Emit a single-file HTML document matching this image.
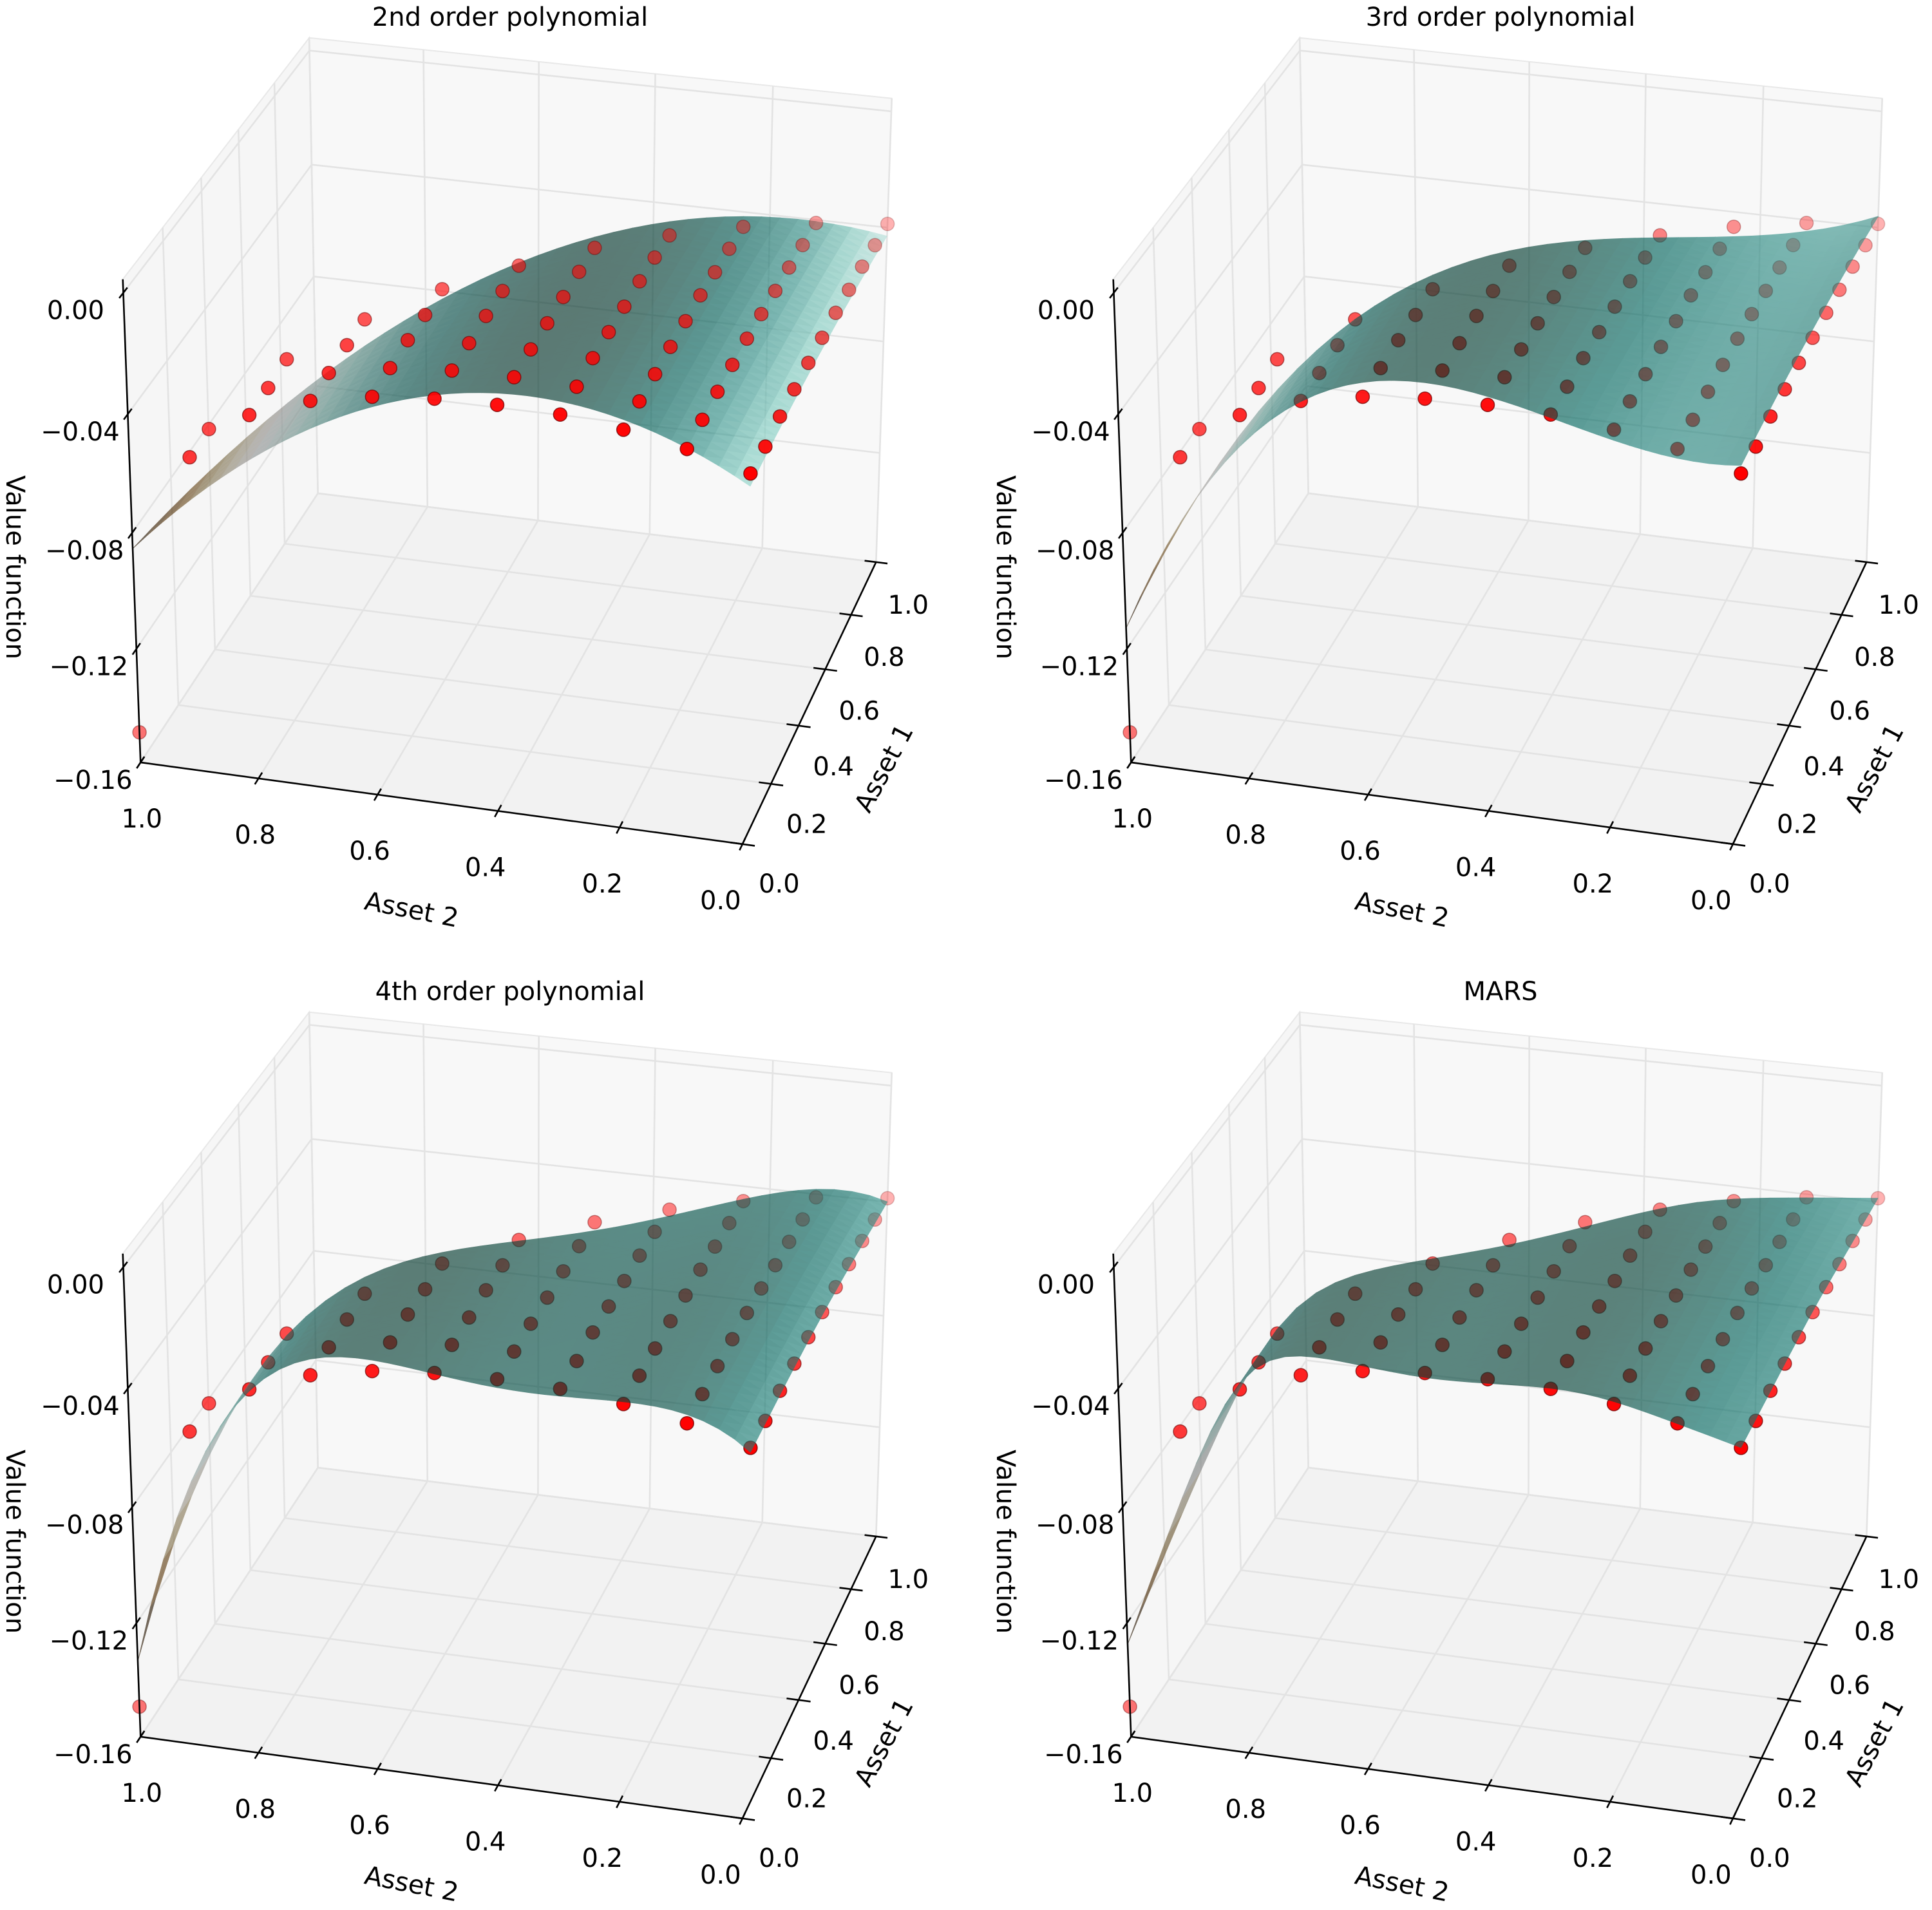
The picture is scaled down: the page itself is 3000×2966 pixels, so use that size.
<!DOCTYPE html>
<html><head><meta charset="utf-8">
<style>
html,body{margin:0;padding:0;background:#fff}
svg{display:block}
text{font-family:"DejaVu Sans","Liberation Sans",sans-serif;fill:#000}
</style></head>
<body>
<svg id="fig" width="3000" height="2966" viewBox="0 0 3000 2966" xmlns="http://www.w3.org/2000/svg">
<rect x="0" y="0" width="3000" height="2966" fill="#ffffff"/>
</svg>
<script>
// ---------------- data ----------------
const asset1Ticks = [0.0, 0.2, 0.4, 0.6, 0.8, 1.0];
const asset2Ticks = [0.0, 0.2, 0.4, 0.6, 0.8, 1.0];
const zTicks = [-0.16, -0.12, -0.08, -0.04, 0.00];
const zTickLabels = ["\u22120.16", "\u22120.12", "\u22120.08", "\u22120.04", "0.00"];
const gridLevels = [0.0, 0.1, 0.2, 0.3, 0.4, 0.5, 0.6, 0.7, 0.8, 0.9, 1.0];
// valuesByAsset2[j][i] = value at Asset2 = gridLevels[j], Asset1 = gridLevels[i]
const valuesByAsset2 = [
  [-0.0348,-0.0352,-0.0344,-0.0344,-0.0345,-0.0349,-0.0352,-0.0360,-0.0366,-0.0377,-0.0387],
  [-0.0293,-0.0289,-0.0287,-0.0287,-0.0288,-0.0293,-0.0301,-0.0307,-0.0315,-0.0323],
  [-0.0255,-0.0253,-0.0253,-0.0251,-0.0253,-0.0253,-0.0261,-0.0266,-0.0275],
  [-0.0230,-0.0229,-0.0224,-0.0226,-0.0228,-0.0229,-0.0234,-0.0243],
  [-0.0223,-0.0222,-0.0219,-0.0220,-0.0219,-0.0220,-0.0224],
  [-0.0227,-0.0224,-0.0222,-0.0219,-0.0222,-0.0222],
  [-0.0245,-0.0240,-0.0236,-0.0239,-0.0239],
  [-0.0283,-0.0280,-0.0276,-0.0277],
  [-0.0354,-0.0354,-0.0347],
  [-0.0519,-0.0516],
  [-0.1493]
];
const panelTitles = ["2nd order polynomial", "3rd order polynomial", "4th order polynomial", "MARS"];
const panelModels = ["poly2", "poly3", "poly4", "mars"];
const marsKnotsAsset2 = [0.25, 0.5, 0.8];
const marsKnotsAsset1 = [0.5];
const zLimits = [-0.16, 0.0044];

// ---------------- layout ----------------
const panelOffsetX = [0, 1538, 0, 1538];
const panelOffsetY = [0, 0, 1513, 1513];
const dotsOnTop = [true, false, false, false];

const SVGNS = "http://www.w3.org/2000/svg";
const fig = document.getElementById("fig");
function mk(tag, attrs, parent) {
  const e = document.createElementNS(SVGNS, tag);
  for (const k in attrs) e.setAttribute(k, attrs[k]);
  (parent || fig).appendChild(e);
  return e;
}

// ---------------- linear algebra ----------------
function solve(A, b) {
  const n = b.length;
  const M = A.map((r, i) => r.slice().concat([b[i]]));
  for (let c = 0; c < n; c++) {
    let p = c;
    for (let r = c + 1; r < n; r++) if (Math.abs(M[r][c]) > Math.abs(M[p][c])) p = r;
    [M[c], M[p]] = [M[p], M[c]];
    const d = M[c][c] || 1e-12;
    for (let r = 0; r < n; r++) {
      if (r === c) continue;
      const f = M[r][c] / d;
      if (f === 0) continue;
      for (let k = c; k <= n; k++) M[r][k] -= f * M[c][k];
    }
  }
  return M.map((r, i) => r[n] / (r[i] || 1e-12));
}
function lstsq(rows, y, ridge) {
  const m = rows[0].length;
  const A = [], b = [];
  for (let i = 0; i < m; i++) { A.push(new Array(m).fill(0)); b.push(0); }
  rows.forEach((r, k) => {
    for (let i = 0; i < m; i++) {
      b[i] += r[i] * y[k];
      for (let j = 0; j < m; j++) A[i][j] += r[i] * r[j];
    }
  });
  for (let i = 0; i < m; i++) A[i][i] += (ridge || 0);
  return solve(A, b);
}

// ---------------- projection (fit to box geometry) ----------------
const zmin = zLimits[0], zmax = zLimits[1];
const corr = [
  [0,0,zmin,1154,1311],[0,1,zmin,221,1186],[1,0,zmin,1358,874],[1,1,zmin,494,770],
  [0,1,zmax,190,438],[1,1,zmax,482,62],[1,0,zmax,1386,155],[0,1,0,190,453],[0,1,-0.12,210,1003],
  [1,1,-0.04,483,253],[1,1,-0.08,487,425],[1,0,-0.04,1378,350]
];
const Pm = (function () {
  const rows = [], rhs = [];
  corr.forEach(c => {
    const X = c[0], Y = c[1], Z = (c[2] - zmin) / (zmax - zmin), u = c[3], v = c[4];
    rows.push([X,Y,Z,1,0,0,0,0,-u*X,-u*Y,-u*Z]); rhs.push(u);
    rows.push([0,0,0,0,X,Y,Z,1,-v*X,-v*Y,-v*Z]); rhs.push(v);
  });
  return lstsq(rows, rhs, 0);
})();
function proj(a1, a2, z) {
  const Z = (z - zmin) / (zmax - zmin);
  const w = Pm[8]*a1 + Pm[9]*a2 + Pm[10]*Z + 1;
  return [(Pm[0]*a1 + Pm[1]*a2 + Pm[2]*Z + Pm[3]) / w, (Pm[4]*a1 + Pm[5]*a2 + Pm[6]*Z + Pm[7]) / w, w];
}
const farSign = proj(1, 1, zmin)[2] > proj(0, 0, zmin)[2] ? 1 : -1;

// ---------------- model fitting ----------------
const dataPts = [];
valuesByAsset2.forEach((row, j) => row.forEach((v, i) => dataPts.push([gridLevels[i], gridLevels[j], v])));
function polyFeat(d) {
  return (a1, a2) => { const f = []; for (let i = 0; i <= d; i++) for (let j = 0; j <= d - i; j++) f.push(Math.pow(a1, i) * Math.pow(a2, j)); return f; };
}
function sp(x) { const s = 0.04; return s * Math.log(1 + Math.exp(x / s)); }
function marsFeat(a1, a2) {
  const f = [1, a1, a2];
  marsKnotsAsset2.forEach(k => f.push(sp(a2 - k)));
  marsKnotsAsset1.forEach(k => f.push(sp(a1 - k)));
  f.push(a1 * a2);
  return f;
}
function fitModel(name) {
  const feat = name === "mars" ? marsFeat : polyFeat(parseInt(name.slice(4)));
  const coef = lstsq(dataPts.map(p => feat(p[0], p[1])), dataPts.map(p => p[2]), 1e-10);
  return (a1, a2) => feat(a1, a2).reduce((s, v, i) => s + v * coef[i], 0);
}

// ---------------- colormap (BrBG) ----------------
const brbg = [[84,48,5],[140,81,10],[191,129,45],[223,194,125],[246,232,195],[245,245,245],[199,234,229],[128,205,193],[53,151,143],[1,102,94],[0,60,48]];
function cmap(t) {
  t = Math.max(0, Math.min(1, t)) * 10;
  const i = Math.min(9, Math.floor(t)), f = t - i;
  return brbg[i].map((c, k) => c + (brbg[i + 1][k] - c) * f);
}

// ---------------- draw ----------------
function line(g, p, q, stroke, w, name) {
  const l = mk("line", {x1: p[0], y1: p[1], x2: q[0], y2: q[1], stroke: stroke, "stroke-width": w, "stroke-linecap": "butt"}, g);
  
  
  return l;
}
function txt(g, x, y, s, size, rot, name) {
  const t = mk("text", {x: x, y: y, "font-size": size, "text-anchor": "middle", "dominant-baseline": "central"}, g);
  if (rot) t.setAttribute("transform", "rotate(" + rot + " " + x + " " + y + ")");
  t.textContent = s;
  
  
  return t;
}

panelModels.forEach((model, pi) => {
  const ox = panelOffsetX[pi], oy = panelOffsetY[pi];
  const P = (a1, a2, z) => { const r = proj(a1, a2, z); return [r[0] + ox, r[1] + oy, r[2] * farSign]; };
  const g = mk("g", {});
  
  

  // panes
  const panes = [
    [[0,0,zmin],[1,0,zmin],[1,1,zmin],[0,1,zmin], "#f2f2f2", "floor-pane"],
    [[0,1,zmin],[1,1,zmin],[1,1,zmax],[0,1,zmax], "#f6f6f6", "left-pane"],
    [[1,0,zmin],[1,1,zmin],[1,1,zmax],[1,0,zmax], "#f8f8f8", "back-pane"]
  ];
  panes.forEach(pn => {
    const pts = pn.slice(0, 4).map(v => P(v[0], v[1], v[2]).slice(0, 2).join(",")).join(" ");
    const e = mk("polygon", {points: pts, fill: pn[4], stroke: "#e8e8e8", "stroke-width": 2}, g);
    
    
  });
  // grid
  const gc = "#e3e3e3", gw = 2.6;
  asset1Ticks.forEach(t => {
    line(g, P(t,0,zmin), P(t,1,zmin), gc, gw, 'floor-grid-asset1');
    line(g, P(t,1,zmin), P(t,1,zmax), gc, gw, 'wall-grid-asset1');
  });
  asset2Ticks.forEach(t => {
    line(g, P(0,t,zmin), P(1,t,zmin), gc, gw, 'floor-grid-asset2');
    line(g, P(1,t,zmin), P(1,t,zmax), gc, gw, 'wall-grid-asset2');
  });
  zTicks.forEach(t => {
    line(g, P(0,1,t), P(1,1,t), gc, gw, 'left-wall-grid-z');
    line(g, P(1,0,t), P(1,1,t), gc, gw, 'back-wall-grid-z');
  });

  // scatter
  const dots = dataPts.map(p => { const s = P(p[0], p[1], p[2]); return {x: s[0], y: s[1], d: s[2]}; });
  let dmin = Infinity, dmax = -Infinity;
  dots.forEach(o => { dmin = Math.min(dmin, o.d); dmax = Math.max(dmax, o.d); });
  const dotG = mk("g", {}, g);
  
  
  dots.slice().sort((a, b) => b.d - a.d).forEach(o => {
    const al = 1 - 0.7 * (o.d - dmin) / (dmax - dmin);
    const c = mk("circle", {cx: o.x.toFixed(1), cy: o.y.toFixed(1), r: 10.5, fill: "rgb(255,0,0)", "fill-opacity": al.toFixed(3), stroke: "rgb(110,0,0)", "stroke-opacity": (al * 0.8).toFixed(3), "stroke-width": 1.5}, dotG);
    
    
  });

  // surface
  const f = fitModel(model);
  const N = 40;
  const node = {};
  for (let i = 0; i <= N; i++) for (let j = 0; j <= N - i; j++) {
    const a1 = i / N, a2 = j / N, z = f(a1, a2);
    node[i + "," + j] = {a1, a2, z, s: P(a1, a2, z)};
  }
  const tris = [];
  for (let i = 0; i < N; i++) for (let j = 0; j < N - i; j++) {
    tris.push([node[i+","+j], node[(i+1)+","+j], node[i+","+(j+1)]]);
    if (i + j + 2 <= N) tris.push([node[(i+1)+","+j], node[(i+1)+","+(j+1)], node[i+","+(j+1)]]);
  }
  const L = [-0.6667, -0.6667, 0.3333];
  let zlo = Infinity, zhi = -Infinity, slo = Infinity, shi = -Infinity;
  tris.forEach(t => {
    const [A, B, C] = t;
    const u = [B.a1-A.a1, B.a2-A.a2, B.z-A.z], v = [C.a1-A.a1, C.a2-A.a2, C.z-A.z];
    let n = [u[1]*v[2]-u[2]*v[1], u[2]*v[0]-u[0]*v[2], u[0]*v[1]-u[1]*v[0]];
    if (n[2] < 0) n = n.map(x => -x);
    const nl = Math.hypot(n[0], n[1], n[2]);
    t.sh = (n[0]*L[0] + n[1]*L[1] + n[2]*L[2]) / nl;
    t.z = (A.z + B.z + C.z) / 3;
    t.d = (A.s[2] + B.s[2] + C.s[2]) / 3;
    zlo = Math.min(zlo, t.z); zhi = Math.max(zhi, t.z);
    slo = Math.min(slo, t.sh); shi = Math.max(shi, t.sh);
  });
  const surfG = mk("g", {opacity: 0.63}, g);
  
  
  tris.sort((a, b) => b.d - a.d).forEach(t => {
    const base = cmap((t.z - zlo) / (zhi - zlo));
    const k = 0.5 + 0.5 * (t.sh - slo) / (shi - slo || 1);
    const col = "rgb(" + base.map(c => Math.round(c * k)).join(",") + ")";
    const pts = t.map(nd => nd.s[0].toFixed(1) + "," + nd.s[1].toFixed(1)).join(" ");
    const pg = mk("polygon", {points: pts, fill: col, stroke: col, "stroke-width": 0.8, "stroke-linejoin": "round"}, surfG);
    
    
  });
  if (dotsOnTop[pi]) g.appendChild(dotG);

  // axes
  line(g, P(0,1,zmin), P(0,1,zmax), "#000", 2.6, 'z-axis-line');
  line(g, P(0,0,zmin), P(0,1,zmin), "#000", 2.6, 'asset2-axis-line');
  line(g, P(0,0,zmin), P(1,0,zmin), "#000", 2.6, 'asset1-axis-line');
  zTicks.forEach((t, k) => {
    const p = P(0,1,t);
    line(g, P(0.02,1,t), P(-0.02,1,t), "#000", 2.6, 'z-tick');
    txt(g, p[0] - 74, p[1] + 28, zTickLabels[k], 40, 0, 'z-tick-label');
  });
  asset2Ticks.forEach(t => {
    const p = P(0,t,zmin);
    line(g, P(0.02,t,zmin), P(-0.02,t,zmin), "#000", 2.6, 'asset2-tick');
    txt(g, p[0] - 34 + 36 * t, p[1] + 88, t.toFixed(1), 40, 0, 'asset2-tick-label');
  });
  asset1Ticks.forEach(t => {
    const p = P(t,0,zmin);
    line(g, P(t,0.02,zmin), P(t,-0.02,zmin), "#000", 2.6, 'asset1-tick');
    txt(g, p[0] + 57 - 7 * t, p[1] + 62 + 5 * t, t.toFixed(1), 40, 0, 'asset1-tick-label');
  });
  txt(g, ox + 23, oy + 881, "Value function", 40, 90, 'z-axis-title');
  txt(g, ox + 639, oy + 1413, "Asset 2", 40, 11, 'asset2-axis-title');
  txt(g, ox + 1373, oy + 1193, "Asset 1", 40, -62, 'asset1-axis-title');
  txt(g, ox + 792, oy + 27, panelTitles[pi], 40, 0, 'panel-title');
});
</script>
</body></html>
